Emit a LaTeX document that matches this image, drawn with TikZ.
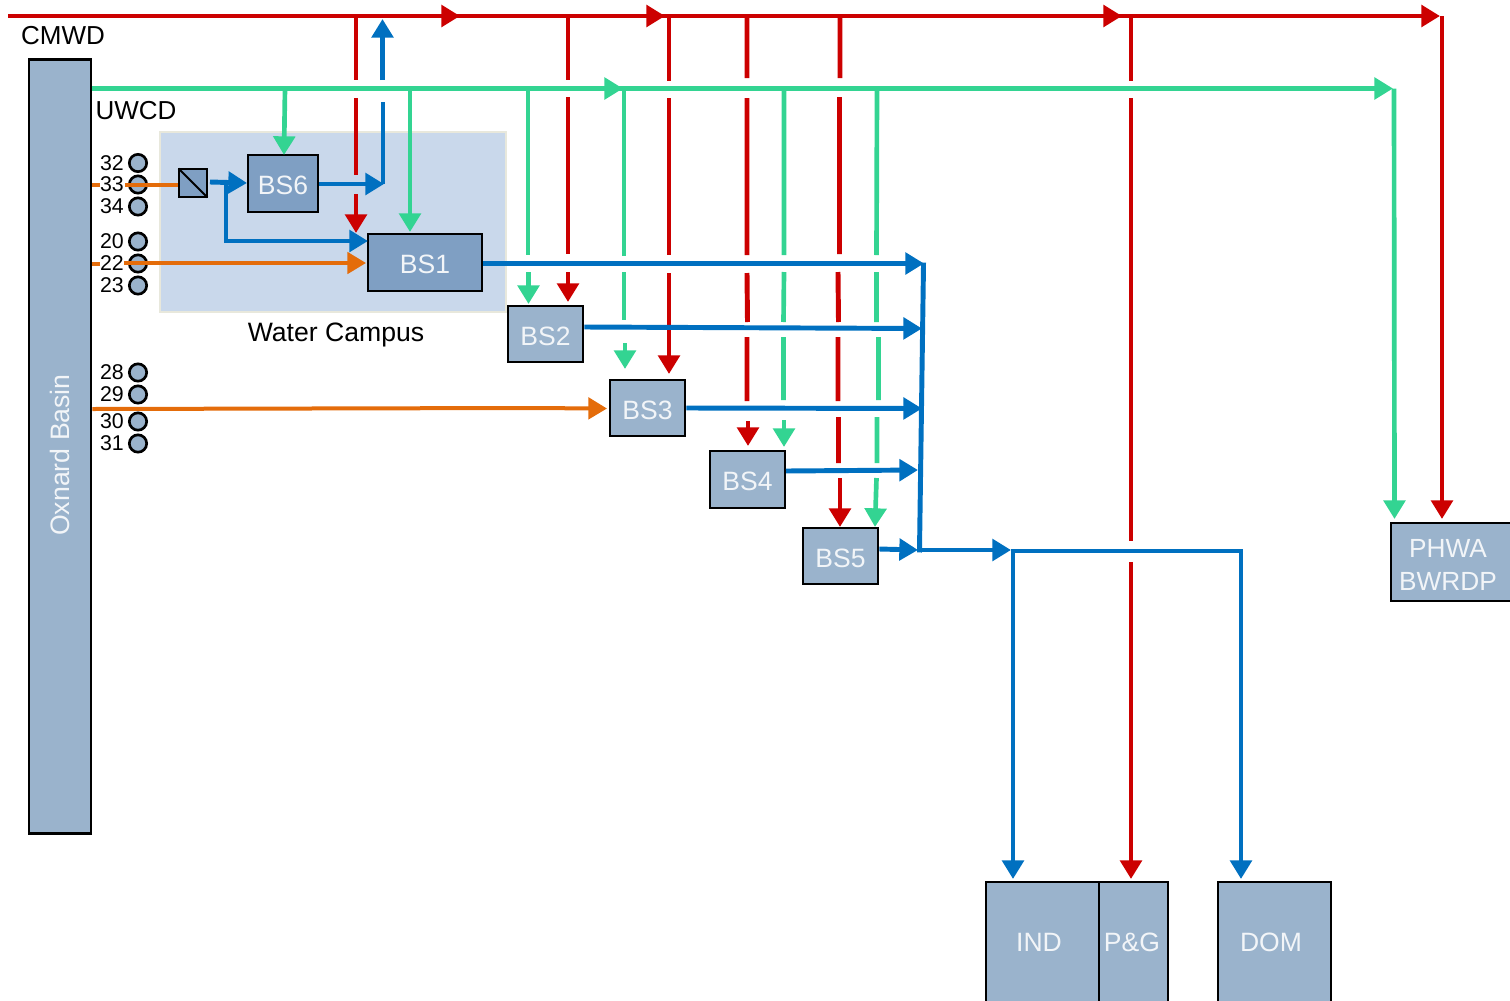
\documentclass[tikz,border=0pt]{standalone}
\usepackage{fontspec}
\setmainfont{Liberation Sans}
\usetikzlibrary{arrows.meta}
\definecolor{cred}{HTML}{CC0000}
\definecolor{cgreen}{HTML}{33D492}
\definecolor{cblue}{HTML}{0070C0}
\definecolor{corange}{HTML}{E46C0A}
\definecolor{boxfill}{HTML}{9AB3CC}
\definecolor{darkfill}{HTML}{7F9FC3}
\definecolor{campus}{HTML}{C9D8EB}
\definecolor{campusedge}{HTML}{E8E8DC}
\definecolor{boxtext}{HTML}{F2F5F8}
\newcommand{\boxtxt}[1]{\raisebox{-1.6pt}[\height][0pt]{#1}}
\tikzset{
  x=0.75pt,y=-0.75pt,
  redl/.style={draw=cred,line width=3.7pt},
  greenl/.style={draw=cgreen,line width=3.5pt},
  bluel/.style={draw=cblue,line width=3.7pt},
  bluethin/.style={draw=cblue,line width=3.1pt},
  orangel/.style={draw=corange,line width=3pt},
  tipr/.style={-{Triangle[length=14pt,width=16pt,fill=cred]}},
  tipg/.style={-{Triangle[length=14pt,width=16pt,fill=cgreen]}},
  tipb/.style={-{Triangle[length=14pt,width=16pt,fill=cblue]}},
  tipo/.style={-{Triangle[length=14pt,width=16pt,fill=corange]}},
  boxn/.style={draw=black,fill=boxfill,line width=2pt,inner sep=0pt,text=boxtext,font=\fontsize{19.9}{24}\selectfont},
  darkn/.style={boxn,fill=darkfill},
  lbl/.style={inner sep=0pt,text=boxtext,font=\fontsize{19.9}{24}\selectfont},
  txt/.style={inner sep=0pt,text=black,font=\fontsize{19.5}{24}\selectfont},
  num/.style={inner sep=0pt,text=black,font=\fontsize{16}{18}\selectfont},
  well/.style={circle,draw=black,fill=boxfill,line width=2pt,minimum size=13pt,inner sep=0pt},
}
\begin{document}
\begin{tikzpicture}
\useasboundingbox (0,0) rectangle (1510,1000);
\clip (0,0) rectangle (1510,1000);
% Water campus
\node[draw=campusedge,fill=campus,line width=1pt,inner sep=0pt,minimum width=259.5pt,minimum height=135pt] (campus) at (333,222) {};
% Boxes
\node[boxn,minimum width=46.5pt,minimum height=580.5pt] (basin) at (60,446.5) {};
\node[lbl,rotate=90,font=\fontsize{20}{24}\selectfont] (basintxt) at (60,455) {Oxnard Basin};
\node[darkn,minimum width=52.5pt,minimum height=42.75pt] (BS6) at (283,183.5) {\boxtxt{BS6}};
\node[darkn,minimum width=85.5pt,minimum height=42.75pt] (BS1) at (425,262.5) {\boxtxt{BS1}};
\node[boxn,minimum width=56.25pt,minimum height=42pt] (BS2) at (545.5,334) {\boxtxt{BS2}};
\node[boxn,minimum width=56.25pt,minimum height=42pt] (BS3) at (647.5,408) {\boxtxt{BS3}};
\node[boxn,minimum width=56.25pt,minimum height=42.75pt] (BS4) at (747.5,479.5) {\boxtxt{BS4}};
\node[boxn,minimum width=56.25pt,minimum height=42pt] (BS5) at (840.5,556) {\boxtxt{BS5}};
\node[boxn,minimum width=91.5pt,minimum height=58.5pt] (PHWA) at (1452,562) {};
\node[lbl,align=center,font=\fontsize{19.7}{25}\selectfont] (phwatxt) at (1448,565) {PHWA\\BWRDP};
\node[boxn,minimum width=84.75pt,minimum height=91.5pt] (IND) at (1042.5,943) {};
\node[boxn,minimum width=51.75pt,minimum height=91.5pt] (PG) at (1133.5,943) {};
\node[boxn,minimum width=84.75pt,minimum height=91.5pt] (DOM) at (1274.5,943) {};
\node[lbl] (indtxt) at (1039,942) {IND};
\node[lbl] (pgtxt) at (1132,942) {P\&G};
\node[lbl] (domtxt) at (1271,942) {DOM};
% Filter
\node[darkn,minimum width=21pt,minimum height=21pt] (filter) at (193,183) {};
\draw[line width=1.5pt,shorten >=1pt,shorten <=1pt] (filter.north west) -- (filter.south east);
% Text labels
\node[txt] (cmwd) at (63,36) {CMWD};
\node[txt] (uwcd) at (136,111) {UWCD};
\node[txt,font=\fontsize{19.95}{24}\selectfont] (wc) at (336,335) {Water Campus};
% Wells
\foreach \n/\yy in {32/163,33/184.5,34/206.5,20/241.5,22/263.5,23/285.5,28/372.5,29/394.5,30/421.5,31/443.5}{
  \node[well] (w\n) at (138,\yy) {};
  \node[num] (t\n) at (112,\yy) {\n};
}
% Named junctions and arrival points
\coordinate (rs) at (8,16);
\foreach \n/\xx in {a/356,b/568,c/669,d/747,e/840,f/1131,g/1442}{\coordinate (r\n) at (\xx,16);}
\foreach \n/\xx in {a/285,b/410,c/528,d/624,e/784,f/877,g/1394}{\coordinate (g\n) at (\xx,88.5);}
\coordinate (t1) at (460,16); \coordinate (t2) at (665,16); \coordinate (t3) at (1122,16); \coordinate (t4) at (1440,16);
\coordinate (u1) at (623,88.5); \coordinate (u2) at (1393,88.5);
\coordinate (rBS1) at (356,233);
\coordinate (rBS2) at (568,302);
\coordinate (rBS3) at (669,374);
\coordinate (rBS4) at (748,446);
\coordinate (rBS5) at (840,527);
\coordinate (gBS2) at (528.5,304);
\coordinate (gBS3) at (625,369);
\coordinate (gBS4) at (784,447);
\coordinate (gBS5) at (875,527);
\coordinate (cmwdin) at (382.5,19);
\coordinate (elb) at (383,184);
\coordinate (elc) at (226,183);
\coordinate (eld) at (226,241);
\coordinate (tr1) at (924,263.5);
\coordinate (tr2) at (922,328.5);
\coordinate (tr3) at (922,408.5);
\coordinate (tr4) at (918,470);
\coordinate (tr5) at (918,550);
\coordinate (split) at (1011,550);
\coordinate (sl) at (1013,551);
\coordinate (sr) at (1241,551);
% Red trunk
\draw[redl,shorten >=5pt] (rs) -- (t4);
\draw[redl,tipr] (rs) -- (t1);
\draw[redl,tipr] (t1) -- (t2);
\draw[redl,tipr] (t2) -- (t3);
\draw[redl,tipr] (t3) -- (t4);
% Red branches
\draw[redl] (ra) -- (356,80) (356,98) -- (356,175);
\draw[redl,tipr] (356,194) -- (rBS1);
\draw[redl] (rb) -- (568,80) (568,97) -- (568,254);
\draw[redl,tipr] (568,272) -- (rBS2);
\draw[redl] (rc) -- (669,81) (669,98) -- (669,255);
\draw[redl,tipr] (669,273) -- (rBS3);
\draw[redl] (rd) -- (747,78) (747,98) -- (747,255) (747,273) -- (747.5,322) (747,337) -- (747,401);
\draw[redl,tipr] (748,421) -- (rBS4);
\draw[redl] (re) -- (840,78) (839.5,97) -- (839.5,254) (838,272) -- (838.5,322) (838,337) -- (838,401) (838.5,417) -- (838.5,463);
\draw[redl,tipr] (840,478) -- (rBS5);
\draw[redl] (rf) -- (1131,81) (1131,98) -- (1131,541);
\draw[redl,tipr] (1131,562) -- (1131,879);
\draw[redl,tipr] (rg) -- (1442,519);
% Green trunk
\draw[greenl,shorten >=5pt] (basin.east |- u1) -- (u2);
\draw[greenl,tipg] (basin.east |- u1) -- (u1);
\draw[greenl,tipg] (u1) -- (u2);
% Green branches
\draw[greenl,tipg] (ga) -- (284,155);
\draw[greenl,tipg] (gb) -- (410,232);
\draw[greenl] (gc) -- (528,255);
\draw[greenl,tipg] (528.5,272) -- (gBS2);
\draw[greenl] (gd) -- (624,256) (624,272) -- (624,320);
\draw[greenl,tipg] (625,343) -- (gBS3);
\draw[greenl] (ge) -- (784,255) (784,272) -- (783.5,322) (783.5,337) -- (783.5,400);
\draw[greenl,tipg] (784,420) -- (gBS4);
\draw[greenl] (gf) -- (876.5,255) (876.5,272) -- (876.5,322) (878.5,337) -- (878.5,400) (877,417) -- (877,463);
\draw[greenl,tipg] (876.5,478) -- (gBS5);
\draw[greenl,tipg] (gg) -- (1394.5,519);
% Orange
\draw[orangel] (basin.east |- w33) -- ++(8,0) (125,184.5) -- (filter.west |- 0,184.5);
\draw[orangel] (basin.east |- w22) -- ++(8,0);
\draw[orangel,tipo] (124,263) -- (366,263);
\draw[orangel,tipo] (basin.east |- 0,409) -- (525,408) -- (607,408.5);
% Blue
\draw[bluel,tipb] (210,182) -- (247,183);
\draw[bluel,line cap=rect] (elc) -- (eld);
\draw[bluel,tipb] (eld) -- (368,241);
\draw[bluel,tipb] (BS6.east |- elb) -- (384,184);
\draw[bluel] (elb) -- (383,102);
\draw[bluel,tipb] (382.5,80) -- (cmwdin);
\draw[bluel,tipb] (BS1.east |- tr1) -- (tr1);
\draw[bluel,tipb] (BS2.east |- 0,327) -- (tr2);
\draw[bluel,tipb] (BS3.east |- 0,408) -- (tr3);
\draw[bluel,tipb] (786,471) -- (tr4);
\draw[bluel,tipb] (BS5.east |- 0,549) -- (tr5);
\draw[bluel,line cap=rect] (923.5,265) -- (919.5,550);
\draw[bluel,tipb] (919,550) -- (split);
\draw[bluethin,line cap=rect] (sl) -- (sr);
\draw[bluel,tipb] (sl) -- (1013,879);
\draw[bluel,tipb] (sr) -- (1241,879);
\end{tikzpicture}
\end{document}
